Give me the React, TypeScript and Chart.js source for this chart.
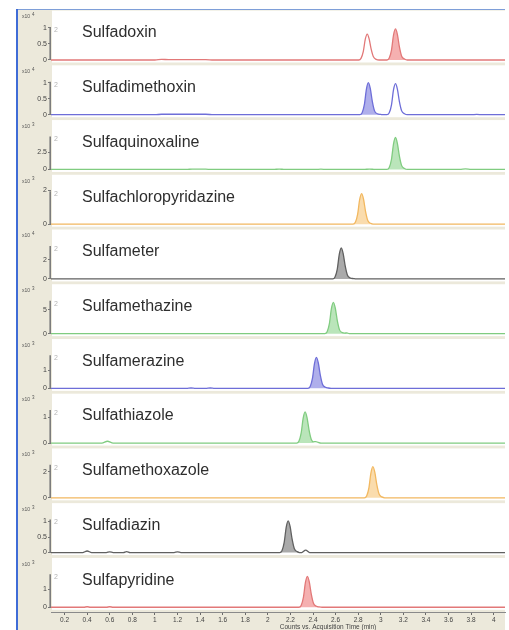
import React, { useEffect, useRef } from 'react';
import { Chart, registerables } from 'chart.js';

Chart.register(...registerables);

// ---------- data ----------
const compoundNames = [
  'Sulfadoxin',
  'Sulfadimethoxin',
  'Sulfaquinoxaline',
  'Sulfachloropyridazine',
  'Sulfameter',
  'Sulfamethazine',
  'Sulfamerazine',
  'Sulfathiazole',
  'Sulfamethoxazole',
  'Sulfadiazin',
  'Sulfapyridine',
];

// power of ten shown as "x10^n" for each panel
const countExponents = [4, 4, 3, 3, 4, 3, 3, 3, 3, 3, 3];

const yTickValues = [
  [0, 0.5, 1],
  [0, 0.5, 1],
  [0, 2.5],
  [0, 2],
  [0, 2],
  [0, 5],
  [0, 1],
  [0, 1],
  [0, 2],
  [0, 0.5, 1],
  [0, 1],
];

// value at top of each panel
const yAxisMax = [1.56, 1.56, 7.35, 2.94, 5.26, 10.4, 2.78, 1.92, 3.85, 1.61, 2.78];

const xTickValues = [0.2, 0.4, 0.6, 0.8, 1, 1.2, 1.4, 1.6, 1.8, 2, 2.2, 2.4, 2.6, 2.8, 3, 3.2, 3.4, 3.6, 3.8, 4];
const xMin = 0.08;
const xMax = 4.1;

// [time (min), counts]
const sulfadoxinTrace = [
  [0.08, 0], [1.0, 0], [1.06, 0.02], [1.12, 0.012], [1.45, 0.012], [1.52, 0],
  [2.805, 0], [2.825, 0.05], [2.845, 0.26], [2.863, 0.65], [2.88, 0.81], [2.897, 0.66], [2.915, 0.34], [2.935, 0.1], [2.96, 0.02], [2.985, 0],
  [3.055, 0], [3.075, 0.06], [3.095, 0.31], [3.113, 0.78], [3.13, 0.97], [3.147, 0.8], [3.165, 0.41], [3.185, 0.12], [3.21, 0.03], [3.235, 0],
  [4.1, 0],
];
const sulfadimethoxinTrace = [
  [0.08, 0], [1.0, 0], [1.06, 0.015], [1.45, 0.015], [1.52, 0],
  [2.815, 0], [2.835, 0.06], [2.855, 0.32], [2.873, 0.8], [2.89, 1.0], [2.907, 0.82], [2.925, 0.42], [2.945, 0.12], [2.97, 0.03], [3.0, 0.01], [3.02, 0],
  [3.055, 0], [3.075, 0.06], [3.095, 0.31], [3.113, 0.78], [3.13, 0.97], [3.147, 0.8], [3.165, 0.41], [3.185, 0.12], [3.21, 0.03], [3.235, 0],
  [3.8, 0], [3.85, 0.01], [3.9, 0], [4.1, 0],
];
const sulfaquinoxalineTrace = [
  [0.08, 0], [1.28, 0], [1.33, 0.06], [1.45, 0.05], [1.5, 0],
  [2.05, 0], [2.1, 0.06], [2.15, 0], [2.42, 0], [2.47, 0.05], [2.52, 0],
  [2.85, 0], [2.9, 0.06], [2.95, 0],
  [3.055, 0], [3.075, 0.28], [3.095, 1.5], [3.113, 3.76], [3.13, 4.7], [3.147, 3.85], [3.165, 1.97], [3.185, 0.56], [3.21, 0.14], [3.235, 0],
  [3.7, 0], [3.75, 0.08], [3.8, 0], [4.1, 0],
];
const sulfachloropyridazineTrace = [
  [0.08, 0],
  [2.755, 0], [2.775, 0.11], [2.795, 0.58], [2.813, 1.44], [2.83, 1.8], [2.847, 1.48], [2.865, 0.76], [2.885, 0.22], [2.91, 0.05], [2.935, 0],
  [4.1, 0],
];
const sulfameterTrace = [
  [0.08, 0],
  [2.575, 0], [2.595, 0.2], [2.615, 1.04], [2.633, 2.6], [2.65, 3.25], [2.667, 2.67], [2.685, 1.37], [2.705, 0.39], [2.73, 0.1], [2.76, 0.03], [2.78, 0],
  [4.1, 0],
];
const sulfamethazineTrace = [
  [0.08, 0],
  [2.505, 0], [2.525, 0.39], [2.545, 2.08], [2.563, 5.2], [2.58, 6.5], [2.597, 5.33], [2.615, 2.73], [2.635, 0.78], [2.66, 0.2], [2.68, 0.12], [2.7, 0.15], [2.72, 0],
  [4.1, 0],
];
const sulfamerazineTrace = [
  [0.08, 0], [1.28, 0], [1.32, 0.02], [1.36, 0], [1.45, 0], [1.49, 0.02], [1.53, 0],
  [2.355, 0], [2.375, 0.1], [2.395, 0.55], [2.413, 1.38], [2.43, 1.72], [2.447, 1.41], [2.465, 0.72], [2.485, 0.21], [2.51, 0.06], [2.535, 0.02], [2.56, 0],
  [4.1, 0],
];
const sulfathiazoleTrace = [
  [0.08, 0], [0.53, 0], [0.58, 0.07], [0.63, 0],
  [2.255, 0], [2.275, 0.07], [2.295, 0.38], [2.313, 0.96], [2.33, 1.2], [2.347, 0.98], [2.365, 0.5], [2.385, 0.14], [2.405, 0.05], [2.425, 0.06], [2.445, 0.03], [2.47, 0],
  [4.1, 0],
];
const sulfamethoxazoleTrace = [
  [0.08, 0],
  [2.855, 0], [2.875, 0.14], [2.895, 0.77], [2.913, 1.92], [2.93, 2.4], [2.947, 1.97], [2.965, 1.01], [2.985, 0.29], [3.01, 0.07], [3.035, 0],
  [4.1, 0],
];
const sulfadiazinTrace = [
  [0.08, 0], [0.36, 0], [0.4, 0.05], [0.44, 0], [0.57, 0], [0.6, 0.02], [0.63, 0], [0.72, 0], [0.75, 0.03], [0.78, 0],
  [1.17, 0], [1.2, 0.02], [1.23, 0],
  [2.105, 0], [2.125, 0.06], [2.145, 0.33], [2.163, 0.82], [2.18, 1.02], [2.197, 0.84], [2.215, 0.43], [2.235, 0.12], [2.26, 0.03], [2.28, 0],
  [2.3, 0], [2.335, 0.08], [2.37, 0],
  [4.1, 0],
];
const sulfapyridineTrace = [
  [0.08, 0], [0.37, 0], [0.4, 0.03], [0.43, 0], [0.57, 0], [0.6, 0.03], [0.63, 0],
  [2.275, 0], [2.295, 0.1], [2.315, 0.55], [2.333, 1.38], [2.35, 1.72], [2.367, 1.41], [2.385, 0.72], [2.405, 0.21], [2.43, 0.06], [2.455, 0.02], [2.48, 0],
  [4.1, 0],
];

const traces = [
  sulfadoxinTrace,
  sulfadimethoxinTrace,
  sulfaquinoxalineTrace,
  sulfachloropyridazineTrace,
  sulfameterTrace,
  sulfamethazineTrace,
  sulfamerazineTrace,
  sulfathiazoleTrace,
  sulfamethoxazoleTrace,
  sulfadiazinTrace,
  sulfapyridineTrace,
];

// time window of the integrated (shaded) peak in each panel
const filledPeakWindows = [
  [3.05, 3.24],
  [2.81, 3.02],
  [3.05, 3.24],
  [2.75, 2.94],
  [2.57, 2.785],
  [2.5, 2.725],
  [2.35, 2.565],
  [2.25, 2.41],
  [2.85, 3.04],
  [2.1, 2.285],
  [2.27, 2.485],
];

// ---------- styles ----------
const RED = { line: '#E27878', fill: 'rgba(236,112,112,0.55)' };
const BLUE = { line: '#6E6ED8', fill: 'rgba(96,96,216,0.5)' };
const GREEN = { line: '#80CC80', fill: 'rgba(118,204,118,0.5)' };
const ORANGE = { line: '#F2B860', fill: 'rgba(246,186,92,0.5)' };
const GRAY = { line: '#606060', fill: 'rgba(100,100,100,0.55)' };
const panelColors = [RED, BLUE, GREEN, ORANGE, GRAY, GREEN, BLUE, GREEN, ORANGE, GRAY, RED];

const BEIGE = '#ECE9DB';
const PANEL_COUNT = compoundNames.length;

const fmt = (v: number) => String(Math.round(v * 100) / 100);

const decorPlugin = {
  id: 'decor',
  beforeDraw(chart: any) {
    const ctx = chart.ctx;
    const { left, right, top } = chart.chartArea;
    ctx.save();
    ctx.fillStyle = '#ffffff';
    ctx.fillRect(0, 0, chart.width, chart.height);
    ctx.fillStyle = BEIGE;
    ctx.fillRect(18, top, right - 18, chart.height - top);
    ctx.fillStyle = '#ffffff';
    for (let i = 0; i < PANEL_COUNT; i++) {
      const s = chart.scales['y' + i];
      const base = s.getPixelForValue(0);
      const y0 = s.top + 0.6;
      ctx.fillRect(left + 1, y0, right - left - 1, base + 2.5 - y0);
    }
    ctx.restore();
  },
  afterDraw(chart: any) {
    const ctx = chart.ctx;
    const { left, right, top, bottom } = chart.chartArea;
    ctx.save();
    for (let i = 0; i < PANEL_COUNT; i++) {
      const s = chart.scales['y' + i];
      const base = s.getPixelForValue(0);
      // vertical axis line
      ctx.strokeStyle = '#7c7c7c';
      ctx.lineWidth = 1.6;
      ctx.beginPath();
      ctx.moveTo(left - 0.8, base - 33);
      ctx.lineTo(left - 0.8, base);
      ctx.stroke();
      // compound label
      ctx.fillStyle = '#2e2e2e';
      ctx.font = '16px Arial, "Liberation Sans", sans-serif';
      ctx.textBaseline = 'middle';
      ctx.textAlign = 'left';
      ctx.fillText(compoundNames[i], 82, s.top + 23);
      // x10^n
      ctx.fillStyle = '#555';
      ctx.font = '5px Arial, "Liberation Sans", sans-serif';
      ctx.fillText('x10', 22, s.top + 7);
      ctx.font = '4.5px Arial, "Liberation Sans", sans-serif';
      ctx.fillText(String(countExponents[i]), 32, s.top + 5);
      // small gray marker
      ctx.fillStyle = '#b4b4b4';
      ctx.font = '7px Arial, "Liberation Sans", sans-serif';
      ctx.fillText('2', left + 3, base - 30);
    }
    // x-axis title
    ctx.fillStyle = '#444';
    ctx.font = '6.5px Arial, "Liberation Sans", sans-serif';
    ctx.textAlign = 'center';
    ctx.textBaseline = 'middle';
    ctx.fillText('Counts vs. Acquisition Time (min)', 328, bottom + 15.5);
    // window borders
    ctx.strokeStyle = '#7E9ED8';
    ctx.lineWidth = 1;
    ctx.beginPath();
    ctx.moveTo(17, top - 0.5);
    ctx.lineTo(right, top - 0.5);
    ctx.stroke();
    ctx.strokeStyle = '#3F6CD6';
    ctx.lineWidth = 2;
    ctx.beginPath();
    ctx.moveTo(17, top - 1);
    ctx.lineTo(17, chart.height);
    ctx.stroke();
    ctx.restore();
  },
};

export default function App() {
  const canvasRef = useRef<HTMLCanvasElement | null>(null);

  useEffect(() => {
    const canvas = canvasRef.current;
    if (!canvas) return;

    const datasets: any[] = [];
    traces.forEach((trace, i) => {
      const pts = trace.map(([x, y]) => ({ x, y }));
      const [a, b] = filledPeakWindows[i];
      datasets.push({
        label: compoundNames[i] + ' peak',
        data: pts.filter((p) => p.x >= a && p.x <= b),
        yAxisID: 'y' + i,
        borderWidth: 0,
        borderColor: 'rgba(0,0,0,0)',
        backgroundColor: panelColors[i].fill,
        fill: 'origin',
        pointRadius: 0,
        cubicInterpolationMode: 'monotone',
        order: 2,
      });
      datasets.push({
        label: compoundNames[i],
        data: pts,
        yAxisID: 'y' + i,
        borderWidth: 1.3,
        borderColor: panelColors[i].line,
        backgroundColor: panelColors[i].line,
        fill: false,
        pointRadius: 0,
        cubicInterpolationMode: 'monotone',
        order: 1,
      });
    });

    const scales: any = {
      x: {
        type: 'linear',
        min: xMin,
        max: xMax,
        afterBuildTicks: (s: any) => {
          s.ticks = xTickValues.map((v) => ({ value: v }));
        },
        afterFit: (s: any) => {
          s.height = 18;
        },
        grid: { drawOnChartArea: false, drawTicks: true, tickLength: 3, color: '#6a6a6a', lineWidth: 1 },
        border: { display: true, color: '#8a8a8a', width: 1 },
        ticks: {
          autoSkip: false,
          maxRotation: 0,
          padding: 1,
          color: '#444',
          font: { size: 6.5 },
          callback: (v: any) => fmt(Number(v)),
        },
      },
    };
    // left stacked boxes are laid out from highest index at top, so insert in reverse
    for (let i = PANEL_COUNT - 1; i >= 0; i--) {
      const max = yAxisMax[i];
      scales['y' + i] = {
        type: 'linear',
        position: 'left',
        stack: 'panels',
        stackWeight: 1,
        min: -max * 0.0946,
        max,
        afterBuildTicks: (s: any) => {
          s.ticks = yTickValues[i].map((v) => ({ value: v }));
        },
        afterFit: (s: any) => {
          s.width = 33;
        },
        grid: { drawOnChartArea: false, drawTicks: true, tickLength: 3, color: '#777', lineWidth: 1 },
        border: { display: false },
        ticks: {
          autoSkip: false,
          padding: 1,
          color: '#444',
          font: { size: 7 },
          callback: (v: any) => fmt(Number(v)),
        },
      };
    }

    Chart.defaults.font.family = 'Arial, "Liberation Sans", sans-serif';

    const chart = new Chart(canvas, {
      type: 'line',
      data: { datasets },
      options: {
        animation: false,
        responsive: false,
        devicePixelRatio: 1,
        parsing: true,
        layout: { padding: { top: 10, left: 18, right: 4, bottom: 0 } },
        plugins: {
          legend: { display: false },
          tooltip: { enabled: false },
          title: { display: false },
        },
        scales,
      },
      plugins: [decorPlugin],
    } as any);

    return () => {
      chart.destroy();
    };
  }, []);

  return (
    <div style={{ position: 'absolute', left: 0, top: 0, width: 509, height: 630, background: '#fff' }}>
      <canvas ref={canvasRef} width={509} height={630} style={{ display: 'block', width: 509, height: 630 }} />
    </div>
  );
}
